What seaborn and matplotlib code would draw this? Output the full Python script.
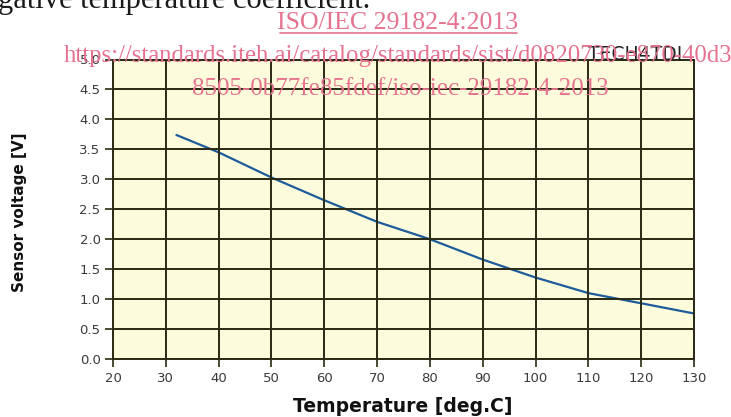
import matplotlib
matplotlib.use("Agg")
import matplotlib.pyplot as plt
import seaborn as sns
import pandas as pd
from matplotlib.lines import Line2D

# Data
temperature = [32, 40, 50, 60, 70, 80, 90, 100, 110, 120, 130]
voltage = [3.74, 3.45, 3.03, 2.65, 2.29, 2.00, 1.66, 1.36, 1.10, 0.93, 0.76]
x_ticks = [20, 30, 40, 50, 60, 70, 80, 90, 100, 110, 120, 130]
y_ticks = [0.0, 0.5, 1.0, 1.5, 2.0, 2.5, 3.0, 3.5, 4.0, 4.5, 5.0]

df = pd.DataFrame({"Temperature": temperature, "Voltage": voltage})

sns.set_style("white")
W, H = 731, 417
fig = plt.figure(figsize=(W / 100, H / 100), dpi=100)
fig.patch.set_facecolor("white")

left, right, top, bottom = 113, 694, 59.5, 359
ax = fig.add_axes([left / W, (H - bottom) / H, (right - left) / W, (bottom - top) / H])
ax.set_facecolor("#fcfcdc")

sns.lineplot(data=df, x="Temperature", y="Voltage", ax=ax, color="#1d5b9a", linewidth=1.6)

ax.set_xlim(20, 130)
ax.set_ylim(0, 5)
ax.set_xticks(x_ticks)
ax.set_yticks(y_ticks)
ax.set_xticklabels([str(t) for t in x_ticks])
ax.set_yticklabels([f"{v:.1f}" for v in y_ticks])
ax.grid(True, color="#2a2a14", linewidth=1.4)
ax.set_axisbelow(False)
for s in ax.spines.values():
    s.set_color("#2a2a14")
    s.set_linewidth(1.4)
ax.tick_params(axis="both", direction="out", length=6, width=1.2, color="#2a2a14",
               labelsize=9.5, labelcolor="#3a3a3a", pad=3, left=True, bottom=True)
for lab in ax.get_xticklabels() + ax.get_yticklabels():
    lab.set_family("DejaVu Sans")

ax.set_xlabel("")
ax.set_ylabel("")
fig.text(403 / W, 1 - 406 / H, "Temperature [deg.C]", ha="center", va="center",
         fontsize=13.5, fontweight="bold", family="DejaVu Sans", color="#111111")
fig.text(20 / W, 1 - 212 / H, "Sensor voltage [V]", ha="center", va="center",
         rotation=90, fontsize=11, fontweight="bold", family="DejaVu Sans", color="#111111")

# Page text above chart
fig.text(-2 / W, 1 - 8 / H, "gative temperature coefficient.", ha="left", va="baseline",
         fontsize=22, family="Liberation Serif", color="#1a1a1a")

pink = "#e5738f"
fig.text(398 / W, 1 - 29 / H, "ISO/IEC 29182-4:2013", ha="center", va="baseline",
         fontsize=18.5, family="Liberation Serif", color=pink)
fig.add_artist(Line2D([280 / W, 517 / W], [1 - 32.5 / H, 1 - 32.5 / H], color=pink, linewidth=1.2,
                      transform=fig.transFigure))
fig.text(588 / W, 1 - 60 / H, "TECH4TDI", ha="left", va="baseline",
         fontsize=13.5, family="DejaVu Sans", color="#222222")
fig.text(64 / W, 1 - 62 / H, "https://standards.iteh.ai/catalog/standards/sist/d0820730-e870-40d3-",
         ha="left", va="baseline", fontsize=17.8, family="Liberation Serif", color=pink)
fig.text(400 / W, 1 - 95 / H, "8505-0b77fe85fdef/iso-iec-29182-4-2013",
         ha="center", va="baseline", fontsize=18, family="Liberation Serif", color=pink)

fig.savefig("out.png", dpi=100)
